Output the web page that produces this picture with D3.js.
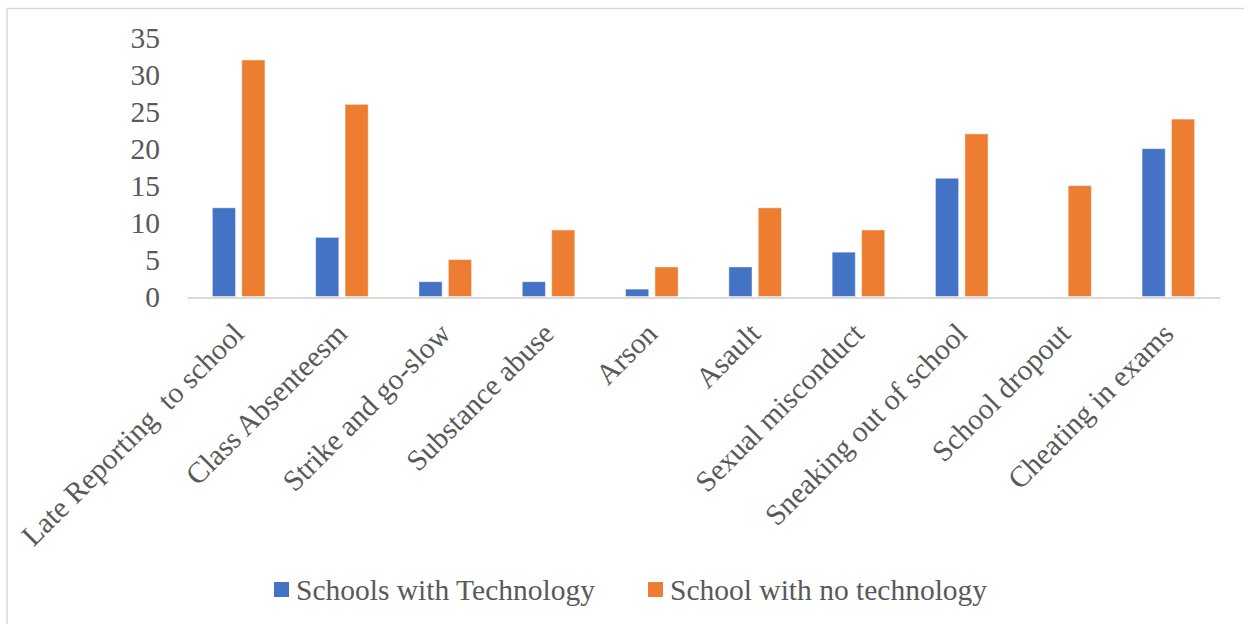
<!DOCTYPE html>
<html>
<head>
<meta charset="utf-8">
<script src="https://cdn.jsdelivr.net/npm/d3@7"></script>
<style>
  html, body { margin: 0; padding: 0; background: #fff; }
  svg { display: block; }
  text { font-family: "Liberation Serif", "Times New Roman", serif; fill: #595959; }
</style>
</head>
<body>
<svg id="chart" width="1244" height="624"></svg>
<script>
// Misconduct cases by type
const categories = [
  "Late Reporting  to school",
  "Class Absenteesm",
  "Strike and go-slow",
  "Substance abuse",
  "Arson",
  "Asault",
  "Sexual misconduct",
  "Sneaking out of school",
  "School dropout",
  "Cheating in exams"
];
const seriesNames = ["Schools with Technology", "School with no technology"];
const withTech    = [12, 8, 2, 2, 1, 4, 6, 16, 0, 20];
const withoutTech = [32, 26, 5, 9, 4, 12, 9, 22, 15, 24];
const yTicks = [0, 5, 10, 15, 20, 25, 30, 35];
const colors = ["#4472C4", "#ED7D31"];

const svg = d3.select("#chart");
const W = 1244, H = 624;
const FS = 29.5;

// chart area frame (open on the right and bottom)
svg.append("rect")
  .attr("x", 7).attr("y", 8.5)
  .attr("width", W + 10).attr("height", H + 10)
  .attr("fill", "#fff")
  .attr("stroke", "#d9d9d9").attr("stroke-width", 1.5);

const plot = { left: 187, right: 1220, top: 37.8, bottom: 296.5 };

const x0 = d3.scaleBand()
  .domain(categories)
  .range([plot.left, plot.right])
  .paddingInner(0).paddingOuter(0);

// Excel-style clustering: gap width 219%, overlap -27%
const barW = x0.bandwidth() / (2 + 0.27 + 2.19);
const barGap = 0.27 * barW;
const x1 = d3.scaleBand()
  .domain([0, 1])
  .range([0, 2 * barW + barGap])
  .paddingInner(barGap / (barW + barGap))
  .paddingOuter(0);

const y = d3.scaleLinear().domain([0, 35]).range([plot.bottom, plot.top]);

// y axis labels (no axis line, no gridlines)
const yAxis = d3.axisLeft(y).tickValues(yTicks).tickSize(0).tickPadding(0);
const gy = svg.append("g")
  .attr("transform", `translate(160,0)`)
  .call(yAxis);
gy.select(".domain").remove();
gy.selectAll("text")
  .attr("font-size", FS)
  .attr("font-family", "Liberation Serif, Times New Roman, serif")
  .attr("fill", "#595959")
  .attr("dy", "0.34em");

// bars
const rows = categories.map((c, i) => ({ cat: c, vals: [withTech[i], withoutTech[i]] }));
const groups = svg.append("g")
  .selectAll("g")
  .data(rows)
  .join("g")
  .attr("transform", d => {
    const cx = x0(d.cat) + x0.bandwidth() / 2;
    return `translate(${cx - (2 * barW + barGap) / 2},0)`;
  });

groups.selectAll("rect")
  .data(d => d.vals.map((v, s) => ({ v, s })))
  .join("rect")
  .attr("x", d => x1(d.s))
  .attr("width", x1.bandwidth())
  .attr("y", d => y(d.v))
  .attr("height", d => y(0) - y(d.v))
  .attr("fill", d => colors[d.s])
  .attr("stroke", "#fff")
  .attr("stroke-opacity", 0.45)
  .attr("stroke-width", 1);

// category axis
const xAxis = d3.axisBottom(x0).tickSize(0).tickPadding(0);
const gx = svg.append("g")
  .attr("transform", `translate(0,${plot.bottom})`)
  .call(xAxis);
gx.select(".domain")
  .attr("stroke", "#d9d9d9")
  .attr("stroke-width", 2.2)
  .attr("transform", "translate(0,1)");
gx.selectAll(".tick text")
  .attr("font-size", FS)
  .attr("font-family", "Liberation Serif, Times New Roman, serif")
  .attr("fill", "#595959")
  .attr("text-anchor", "end")
  .style("white-space", "pre")
  .attr("y", 0).attr("dy", 0)
  .attr("transform", "translate(7,39) rotate(-45)");

// legend
const legendItems = [
  { name: seriesNames[0], color: colors[0], x: 274 },
  { name: seriesNames[1], color: colors[1], x: 648 }
];
const lg = svg.append("g")
  .selectAll("g")
  .data(legendItems)
  .join("g")
  .attr("transform", d => `translate(${d.x},582)`);
lg.append("rect")
  .attr("width", 15).attr("height", 15)
  .attr("fill", d => d.color);
lg.append("text")
  .attr("x", 22).attr("y", 18)
  .attr("font-size", FS)
  .text(d => d.name);
</script>
</body>
</html>
